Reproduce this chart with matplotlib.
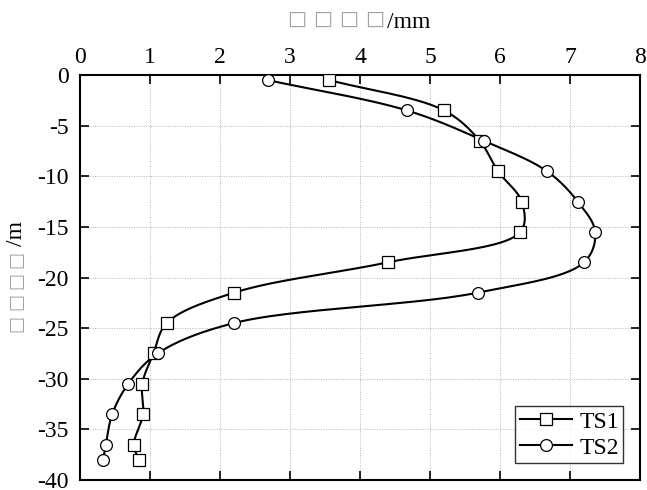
import numpy as np
import matplotlib
matplotlib.use('Agg')
import matplotlib.pyplot as plt

plt.rcParams['font.family'] = ['Liberation Serif', 'DejaVu Sans']
plt.rcParams['axes.unicode_minus'] = False

# depth of measuring points (m)
depth = [-0.5, -3.5, -6.5, -9.5, -12.5, -15.5, -18.5, -21.5, -24.5,
         -27.5, -30.5, -33.5, -36.5, -38.0]
# horizontal displacement (mm)
ts1 = [3.56, 5.20, 5.71, 5.97, 6.31, 6.29, 4.40, 2.20, 1.24,
       1.05, 0.89, 0.90, 0.77, 0.84]
ts2 = [2.68, 4.67, 5.77, 6.67, 7.11, 7.36, 7.20, 5.68, 2.20,
       1.11, 0.69, 0.46, 0.37, 0.33]

# axis titles: the Chinese glyphs show up as empty boxes in the reference
x_unit = '/mm'
y_unit = '/m'
n_boxes = 4


def smooth(xs, ys, sx=70.6, sy=10.17, n=30, alpha=0.5):
    """centripetal Catmull-Rom curve through the points (drawn in pixel-like space)"""
    p = np.column_stack([np.asarray(xs) * sx, np.asarray(ys) * sy])
    p = np.vstack([2 * p[0] - p[1], p, 2 * p[-1] - p[-2]])
    out = []
    for i in range(1, len(p) - 2):
        p0, p1, p2, p3 = p[i - 1], p[i], p[i + 1], p[i + 2]
        t0 = 0.0
        t1 = t0 + np.linalg.norm(p1 - p0) ** alpha
        t2 = t1 + np.linalg.norm(p2 - p1) ** alpha
        t3 = t2 + np.linalg.norm(p3 - p2) ** alpha
        t = np.linspace(t1, t2, n)[:, None]
        a1 = (t1 - t) / (t1 - t0) * p0 + (t - t0) / (t1 - t0) * p1
        a2 = (t2 - t) / (t2 - t1) * p1 + (t - t1) / (t2 - t1) * p2
        a3 = (t3 - t) / (t3 - t2) * p2 + (t - t2) / (t3 - t2) * p3
        b1 = (t2 - t) / (t2 - t0) * a1 + (t - t0) / (t2 - t0) * a2
        b2 = (t3 - t) / (t3 - t1) * a2 + (t - t1) / (t3 - t1) * a3
        c = (t2 - t) / (t2 - t1) * b1 + (t - t1) / (t2 - t1) * b2
        out.append(c if i == 1 else c[1:])
    c = np.vstack(out)
    return c[:, 0] / sx, c[:, 1] / sy


W, H = 647, 490
fig = plt.figure(figsize=(W / 100, H / 100), dpi=100)
ax = fig.add_axes([80 / W, 10 / H, 560 / W, 405 / H])

for xs, mk, lab in [(ts1, 's', 'TS1'), (ts2, 'o', 'TS2')]:
    ms = 8.5 if mk == 'o' else 8
    cx, cy = smooth(xs, depth)
    ax.plot(cx, cy, color='black', lw=1.5, zorder=3)
    ax.plot(xs, depth, linestyle='none', marker=mk, ms=ms,
            mfc='white', mec='black', mew=0.9, zorder=4)
    ax.plot([], [], color='black', lw=1.5, marker=mk, ms=ms,
            mfc='white', mec='black', mew=0.9, label=lab)

ax.set_xlim(0, 8)
ax.set_ylim(-40, 0)
ax.set_xticks(range(0, 9))
ax.set_yticks(range(-40, 1, 5))
ax.xaxis.tick_top()
ax.tick_params(direction='in', length=6.5, width=1.2, labelsize=17,
               top=True, bottom=True, left=True, right=True)
ax.tick_params(axis='x', labeltop=True, labelbottom=False, pad=5)
ax.tick_params(axis='y', pad=8)
for s in ax.spines.values():
    s.set_linewidth(1.5)
ax.grid(True, linestyle=(0, (1, 1.5)), color='#b5b5b5', lw=0.7)

# top title: grey boxes + black unit
for i in range(n_boxes):
    fig.text((297 + 26 * i) / W, 1 - 19 / H, '□', fontsize=14.5, color='#a0a0a0',
             family='DejaVu Sans', ha='center', va='center')
fig.text(387 / W, 1 - 28 / H, x_unit, fontsize=17, ha='left', va='baseline')

# left title, rotated
for i in range(n_boxes):
    fig.text(16 / W, 1 - (259 + 21.5 * i) / H, '□', fontsize=13, color='#a0a0a0',
             family='DejaVu Sans', ha='center', va='center', rotation=90)
fig.text(16 / W, 1 - 234 / H, y_unit, fontsize=17, ha='center', va='center',
         rotation=90)

leg = ax.legend(loc='lower right', fontsize=17, frameon=True, fancybox=False,
                edgecolor='black', borderaxespad=0.7, handlelength=2.2,
                handletextpad=0.3, borderpad=0.2, labelspacing=0.2)
leg.get_frame().set_linewidth(1.0)

fig.savefig('out.png', dpi=100)
